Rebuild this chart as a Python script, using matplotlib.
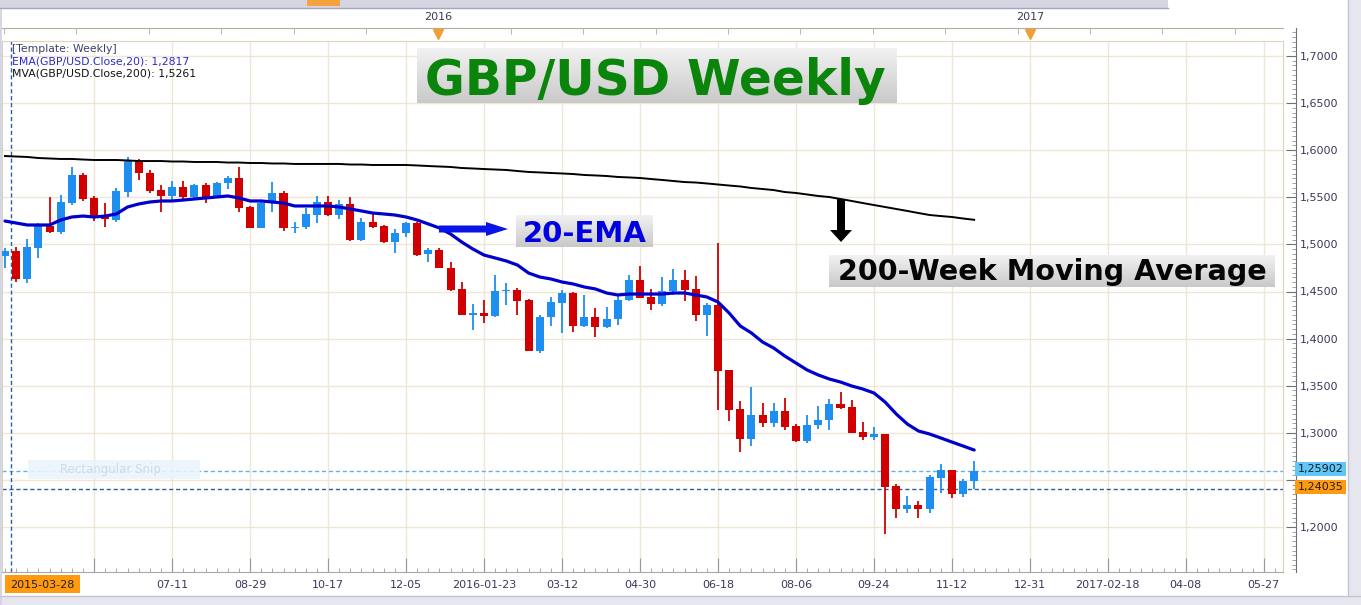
import datetime as dt
import numpy as np
import matplotlib
matplotlib.use('Agg')
import matplotlib.pyplot as plt
from matplotlib.patches import Rectangle, Polygon
from matplotlib.colors import LinearSegmentedColormap
from matplotlib.ticker import FixedLocator, MultipleLocator, FuncFormatter

plt.rcParams['font.family'] = ['DejaVu Sans']

# ---------------- data ----------------
start_date = dt.date(2015, 3, 28)

opens = [1.4877, 1.4930, 1.4633, 1.4960, 1.5195, 1.5132, 1.5440, 1.5738, 1.5493, 1.5302,
         1.5260, 1.5556, 1.5885, 1.5758, 1.5577, 1.5514, 1.5610, 1.5503, 1.5631, 1.5503,
         1.5652, 1.5705, 1.5397, 1.5174, 1.5440, 1.5546, 1.5174, 1.5180, 1.5310, 1.5450,
         1.5310, 1.5430, 1.5047, 1.5238, 1.5195, 1.5025, 1.5121, 1.5227, 1.4898, 1.4941,
         1.4749, 1.4527, 1.4250, 1.4271, 1.4240, 1.4505, 1.4516, 1.4410, 1.3868, 1.4229,
         1.4378, 1.4484, 1.4134, 1.4229, 1.4123, 1.4208, 1.4410, 1.4622, 1.4442, 1.4367,
         1.4505, 1.4622, 1.4527, 1.4250, 1.4357, 1.3667, 1.3253, 1.2934, 1.3189, 1.3104,
         1.3231, 1.3072, 1.2913, 1.3083, 1.3136, 1.3306, 1.3274, 1.3008, 1.2955, 1.2987,
         1.2435, 1.2191, 1.2233, 1.2191, 1.2520, 1.2605, 1.2350, 1.2488]
highs = [1.4960, 1.4970, 1.5058, 1.5230, 1.5503, 1.5525, 1.5820, 1.5760, 1.5510, 1.5440,
         1.5600, 1.5928, 1.5907, 1.5790, 1.5630, 1.5670, 1.5670, 1.5640, 1.5650, 1.5660,
         1.5726, 1.5822, 1.5410, 1.5450, 1.5660, 1.5567, 1.5238, 1.5386, 1.5510, 1.5510,
         1.5470, 1.5503, 1.5280, 1.5333, 1.5205, 1.5163, 1.5238, 1.5238, 1.4962, 1.4962,
         1.4813, 1.4601, 1.4367, 1.4410, 1.4675, 1.4590, 1.4537, 1.4420, 1.4250, 1.4441,
         1.4516, 1.4490, 1.4463, 1.4325, 1.4335, 1.4463, 1.4675, 1.4771, 1.4527, 1.4654,
         1.4739, 1.4728, 1.4665, 1.4378, 1.5015, 1.3667, 1.3338, 1.3486, 1.3316, 1.3316,
         1.3369, 1.3093, 1.3189, 1.3284, 1.3359, 1.3433, 1.3348, 1.3115, 1.3061, 1.2987,
         1.2456, 1.2329, 1.2276, 1.2552, 1.2669, 1.2605, 1.2510, 1.2701]
lows = [1.4750, 1.4600, 1.4590, 1.4860, 1.5120, 1.5110, 1.5420, 1.5460, 1.5250, 1.5185,
        1.5240, 1.5503, 1.5684, 1.5546, 1.5344, 1.5450, 1.5480, 1.5470, 1.5440, 1.5490,
        1.5588, 1.5344, 1.5170, 1.5170, 1.5344, 1.5142, 1.5120, 1.5163, 1.5227, 1.5300,
        1.5270, 1.5036, 1.5036, 1.5174, 1.5015, 1.4909, 1.5078, 1.4877, 1.4813, 1.4749,
        1.4505, 1.4250, 1.4091, 1.4165, 1.4229, 1.4357, 1.4250, 1.3868, 1.3847, 1.4134,
        1.4059, 1.4070, 1.4123, 1.4017, 1.4112, 1.4144, 1.4399, 1.4431, 1.4304, 1.4346,
        1.4463, 1.4399, 1.4187, 1.4028, 1.3242, 1.3125, 1.2796, 1.2860, 1.3061, 1.3061,
        1.3030, 1.2902, 1.2892, 1.3040, 1.3030, 1.3253, 1.2998, 1.2923, 1.2923, 1.1925,
        1.2095, 1.2149, 1.2095, 1.2149, 1.2361, 1.2308, 1.2318, 1.2403]
closes = [1.4930, 1.4633, 1.4973, 1.5195, 1.5132, 1.5450, 1.5738, 1.5482, 1.5302, 1.5270,
          1.5567, 1.5885, 1.5758, 1.5567, 1.5514, 1.5610, 1.5503, 1.5631, 1.5503, 1.5652,
          1.5705, 1.5386, 1.5174, 1.5440, 1.5546, 1.5174, 1.5180, 1.5323, 1.5450, 1.5310,
          1.5430, 1.5047, 1.5238, 1.5185, 1.5025, 1.5121, 1.5227, 1.4888, 1.4941, 1.4749,
          1.4516, 1.4250, 1.4271, 1.4240, 1.4505, 1.4516, 1.4399, 1.3868, 1.4229, 1.4388,
          1.4484, 1.4134, 1.4229, 1.4123, 1.4208, 1.4410, 1.4622, 1.4431, 1.4367, 1.4505,
          1.4622, 1.4516, 1.4250, 1.4357, 1.3656, 1.3242, 1.2934, 1.3189, 1.3104, 1.3231,
          1.3061, 1.2913, 1.3083, 1.3136, 1.3306, 1.3263, 1.2998, 1.2955, 1.2987, 1.2424,
          1.2191, 1.2233, 1.2191, 1.2531, 1.2605, 1.2350, 1.2488, 1.2590]
ema20 = [1.5248, 1.5227, 1.5206, 1.5206, 1.5206, 1.5259, 1.5291, 1.5301, 1.5291, 1.5301,
         1.5323, 1.5397, 1.5429, 1.5450, 1.5461, 1.5461, 1.5471, 1.5482, 1.5493, 1.5503,
         1.5514, 1.5493, 1.5461, 1.5461, 1.5450, 1.5439, 1.5408, 1.5408, 1.5408, 1.5408,
         1.5397, 1.5376, 1.5355, 1.5333, 1.5323, 1.5312, 1.5291, 1.5259, 1.5217, 1.5174,
         1.5110, 1.5025, 1.4951, 1.4887, 1.4856, 1.4824, 1.4781, 1.4696, 1.4654, 1.4633,
         1.4601, 1.4580, 1.4548, 1.4527, 1.4484, 1.4463, 1.4473, 1.4473, 1.4473, 1.4473,
         1.4484, 1.4484, 1.4463, 1.4442, 1.4389, 1.4272, 1.4134, 1.4060, 1.3964, 1.3900,
         1.3815, 1.3741, 1.3667, 1.3614, 1.3571, 1.3539, 1.3497, 1.3465, 1.3423, 1.3327,
         1.3200, 1.3093, 1.3019, 1.2987, 1.2945, 1.2902, 1.2860, 1.2817]
ma200 = [1.5938, 1.5933, 1.5928, 1.5917, 1.5912, 1.5907, 1.5907, 1.5901, 1.5896, 1.5896,
         1.5896, 1.5891, 1.5885, 1.5885, 1.5885, 1.5880, 1.5880, 1.5875, 1.5875, 1.5875,
         1.5869, 1.5869, 1.5864, 1.5864, 1.5859, 1.5859, 1.5854, 1.5854, 1.5854, 1.5854,
         1.5854, 1.5848, 1.5848, 1.5843, 1.5843, 1.5843, 1.5843, 1.5838, 1.5832, 1.5827,
         1.5822, 1.5811, 1.5806, 1.5800, 1.5795, 1.5790, 1.5779, 1.5769, 1.5764, 1.5758,
         1.5753, 1.5747, 1.5737, 1.5732, 1.5726, 1.5716, 1.5711, 1.5705, 1.5694, 1.5684,
         1.5673, 1.5662, 1.5657, 1.5647, 1.5636, 1.5625, 1.5615, 1.5599, 1.5588, 1.5577,
         1.5556, 1.5546, 1.5530, 1.5514, 1.5503, 1.5482, 1.5461, 1.5439, 1.5418, 1.5397,
         1.5376, 1.5355, 1.5333, 1.5312, 1.5301, 1.5291, 1.5275, 1.5261]

x_tick_dates = ['2015-05-23', '2015-07-11', '2015-08-29', '2015-10-17', '2015-12-05',
                '2016-01-23', '2016-03-12', '2016-04-30', '2016-06-18', '2016-08-06',
                '2016-09-24', '2016-11-12', '2016-12-31', '2017-02-18', '2017-04-08',
                '2017-05-27']
x_tick_labels = ['', '07-11', '08-29', '10-17', '12-05', '2016-01-23', '03-12', '04-30',
                 '06-18', '08-06', '09-24', '11-12', '12-31', '2017-02-18', '04-08', '05-27']
first_date_label = '2015-03-28'
year_labels = ['2016', '2017']
year_week_pos = [38.9, 92.0]
y_ticks = [1.20, 1.25, 1.30, 1.35, 1.40, 1.45, 1.50, 1.55, 1.60, 1.65, 1.70]
y_hidden_labels = [1.25]          # covered by the price tags in the reference
last_close = 1.25902
level_orange = 1.24035
ema_last = 1.2817
ma_last = 1.5261

# ---------------- helpers ----------------
W, H = 1361, 605
PPU = 942.0          # pixels per 1.0 price unit
PX_WEEK = 11.14
X0_PX = 5.0          # pixel of week index 0


def price_at(py):
    return 1.70 - (py - 56.0) / PPU


def week_at(px):
    return (px - X0_PX) / PX_WEEK


def week_index(s):
    d = dt.date.fromisoformat(s)
    return (d - start_date).days / 7.0


def fmt_price(v, nd=4):
    return f"{v:.{nd}f}".replace('.', ',')


def y_label(v, p):
    if any(abs(v - hv) < 1e-9 for hv in y_hidden_labels):
        return ''
    return fmt_price(v)


BLUE = '#1e8ef0'
RED = '#d10000'
GRID = '#f0e6d6'
TXT = '#39395a'

fig = plt.figure(figsize=(W / 100, H / 100), dpi=100)
fig.patch.set_facecolor('white')

L_PX, R_PX, T_PX, B_PX = 2, 1283, 41, 572
ax = fig.add_axes([L_PX / W, 1 - B_PX / H, (R_PX - L_PX) / W, (B_PX - T_PX) / H])
ax.set_facecolor('white')
ax.set_xlim(week_at(L_PX), week_at(R_PX))
ax.set_ylim(price_at(B_PX), price_at(T_PX))

# grid
tick_pos = [week_index(s) for s in x_tick_dates]
for tp in tick_pos:
    ax.axvline(tp, color=GRID, lw=1.0, zorder=0)
for yt in y_ticks:
    ax.axhline(yt, color=GRID, lw=1.0, zorder=0)

# candles
o = np.array(opens); h = np.array(highs); l = np.array(lows); c = np.array(closes)
xs = np.arange(len(o))
cols = np.where(c >= o, BLUE, RED)
ax.vlines(xs, l, h, colors=cols, lw=1.3, zorder=3)
body_b = np.minimum(o, c)
body_h = np.maximum(np.abs(c - o), 0.0007)
ax.bar(xs, body_h, bottom=body_b, width=0.72, color=cols, linewidth=0, zorder=4)

# indicators
ax.plot(xs, ma200, color='black', lw=1.4, zorder=5)
ax.plot(xs, ema20, color='#0000cc', lw=2.3, zorder=6, solid_capstyle='round')

# dashed lines
ax.axhline(last_close, color='#5ab4e6', lw=1.0, ls=(0, (3, 2)), zorder=2)
ax.axhline(level_orange, color='#2a5fa8', lw=1.0, ls=(0, (3, 2)), zorder=2)
ax.axvline(week_at(11), color='#2a5fa8', lw=1.0, ls=(0, (3, 2)), zorder=2)

# bottom axis
for side in ['left', 'right', 'top']:
    ax.spines[side].set_color('#ddd2bf')
ax.spines['bottom'].set_color('#a8a8a8')
ax.xaxis.set_major_locator(FixedLocator(tick_pos))
ax.set_xticklabels(x_tick_labels)
ax.xaxis.set_minor_locator(MultipleLocator(1))
ax.tick_params(axis='x', which='major', direction='in', length=10, color='#9a9a9a',
               labelsize=8, labelcolor=TXT, pad=6)
ax.tick_params(axis='x', which='minor', direction='in', length=3, color='#9a9a9a')
ax.set_yticks([])

# top time axis
T2 = 28
axt = fig.add_axes([L_PX / W, 1 - T_PX / H, (R_PX - L_PX) / W, (T_PX - T2) / H])
axt.set_xlim(ax.get_xlim())
axt.set_ylim(0, 1)
axt.patch.set_alpha(0)
for side in ['left', 'right', 'bottom']:
    axt.spines[side].set_visible(False)
axt.spines['top'].set_color('#b4ac9c')
axt.set_yticks([])
axt.xaxis.tick_top()
axt.xaxis.set_major_locator(FixedLocator(year_week_pos))
axt.set_xticklabels(year_labels)
axt.xaxis.set_minor_locator(FixedLocator(np.arange(year_week_pos[0] - 6.5 * 6, 115, 6.5)))
axt.tick_params(axis='x', which='major', length=0, labelsize=8, labelcolor=TXT, pad=4)
axt.tick_params(axis='x', which='minor', direction='in', length=4, color='#b4ac9c')
axt.plot(year_week_pos, [0.55] * len(year_week_pos), 'v', color='#f0a030', ms=7,
         clip_on=False)

# right price axis
yax = fig.add_axes([R_PX / W, 1 - B_PX / H, 13 / W, (B_PX - T2) / H])
yax.set_xlim(0, 1)
yax.set_ylim(price_at(B_PX), price_at(T2))
yax.patch.set_alpha(0)
for side in ['left', 'top', 'bottom']:
    yax.spines[side].set_visible(False)
yax.spines['right'].set_color('#707070')
yax.set_xticks([])
yax.yaxis.tick_right()
yax.yaxis.set_major_locator(FixedLocator(y_ticks))
yax.yaxis.set_major_formatter(FuncFormatter(y_label))
yax.yaxis.set_minor_locator(MultipleLocator(0.005))
yax.tick_params(axis='y', which='major', direction='in', length=7, color='#707070',
                labelsize=8, labelcolor=TXT, pad=3)
yax.tick_params(axis='y', which='minor', direction='in', length=3, color='#909090')

# ---------------- overlay (pixel coordinates) ----------------
ov = fig.add_axes([0, 0, 1, 1], zorder=20)
ov.set_xlim(0, W)
ov.set_ylim(H, 0)
ov.axis('off')
ov.patch.set_alpha(0)

# window chrome
ov.add_patch(Rectangle((0, 0), 1168, 8, facecolor='#d6d6e2', edgecolor='none'))
ov.plot([0, 1168], [8, 8], color='#a4a4bc', lw=1)
ov.add_patch(Rectangle((307, 0), 33, 6, facecolor='#f4a340', edgecolor='none'))
ov.add_patch(Rectangle((0, 596), W, 9, facecolor='#e6e6ef', edgecolor='none'))
ov.plot([0, W], [596, 596], color='#c4c4d4', lw=1)
ov.add_patch(Rectangle((1348, 0), 13, H, facecolor='#e6e6ef', edgecolor='none'))
ov.plot([1348, 1348], [0, 596], color='#c4c4d4', lw=1)
ov.add_patch(Rectangle((0, 0), 2, H, facecolor='#d6d6e2', edgecolor='none'))

# legend text
ov.text(12, 49, '[Template: Weekly]', fontsize=7.8, color='#40406a', va='center')
ov.text(12, 61, f'EMA(GBP/USD.Close,20): {fmt_price(ema_last)}', fontsize=7.8,
        color='#2a2acc', va='center')
ov.text(12, 74, f'MVA(GBP/USD.Close,200): {fmt_price(ma_last)}', fontsize=7.8,
        color='#111111', va='center')

# price tags
ov.add_patch(Rectangle((1295, 462), 51, 14, facecolor='#62c6f4', edgecolor='none'))
ov.text(1320.5, 469, fmt_price(last_close, 5), fontsize=8, color='#102030',
        ha='center', va='center')
ov.add_patch(Rectangle((1295, 480), 51, 14, facecolor='#ff9a10', edgecolor='none'))
ov.text(1320.5, 487, fmt_price(level_orange, 5), fontsize=8, color='#202020',
        ha='center', va='center')

# first date tag
ov.add_patch(Rectangle((5, 575), 75, 18, facecolor='#ff9a10', edgecolor='none'))
ov.text(42.5, 584.5, first_date_label, fontsize=8, color='#202020', ha='center', va='center')

# faint snip box
ov.add_patch(Rectangle((28, 460), 172, 19, facecolor='#eaf4fc', edgecolor='none', alpha=0.9))
ov.text(60, 469.5, 'Rectangular Snip', fontsize=8.5, color='#cddbe8', va='center')

gcmap = LinearSegmentedColormap.from_list('g', ['#f2f2f2', '#c9c9c9'])


def grad_box(x0, y0, x1, y1):
    grad = np.linspace(0, 1, 64).reshape(-1, 1)
    ov.imshow(grad, extent=[x0, x1, y1, y0], aspect='auto', cmap=gcmap, zorder=1,
              interpolation='bilinear')


grad_box(417, 48, 897, 103)
ov.text(655, 95, 'GBP/USD Weekly', fontsize=35, fontweight='bold', color='#0a840a',
        ha='center', va='baseline', zorder=2)

grad_box(516, 215, 653, 247)
ov.text(585, 242, '20-EMA', fontsize=21, fontweight='bold', color='#0000e0',
        ha='center', va='baseline', zorder=2)

grad_box(829, 255, 1275, 287)
ov.text(1052, 280, '200-Week Moving Average', fontsize=20.6, fontweight='bold',
        color='#050505', ha='center', va='baseline', zorder=2)

# blue arrow -> 20-EMA
ov.add_patch(Polygon([(439, 225.5), (486, 225.5), (486, 222), (508, 229), (486, 236),
                      (486, 232.5), (439, 232.5)], closed=True, facecolor='#0a14e6',
                     edgecolor='none', zorder=3))
# black arrow down to 200-MA
ov.add_patch(Polygon([(837, 199), (845, 199), (845, 230), (852, 230), (841, 242),
                      (830, 230), (837, 230)], closed=True, facecolor='#000000',
                     edgecolor='none', zorder=3))

ov.set_xlim(0, W)
ov.set_ylim(H, 0)

fig.savefig('out.png', dpi=100)
